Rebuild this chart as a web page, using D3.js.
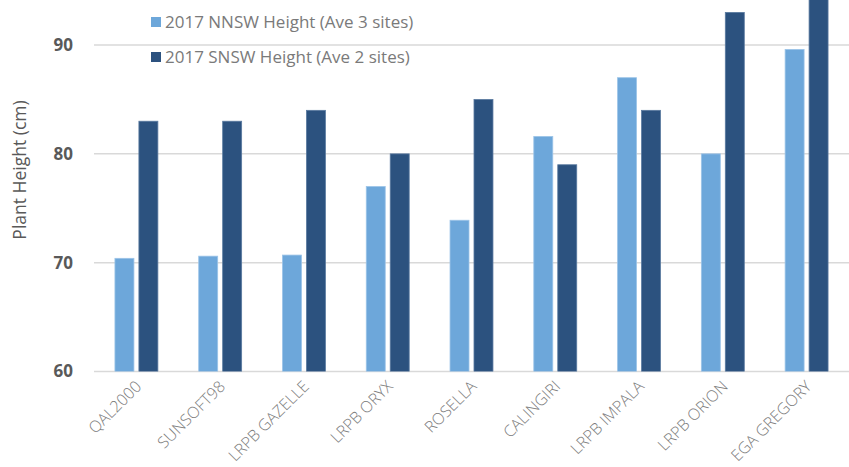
<!DOCTYPE html>
<html><head><meta charset="utf-8">
<script src="https://d3js.org/d3.v7.min.js"></script>
<style>body{margin:0;background:#fff}svg{display:block}</style>
</head><body>
<svg id="c" width="849" height="467"></svg>
<script>
const categories = ["QAL2000","SUNSOFT98","LRPB GAZELLE","LRPB ORYX","ROSELLA","CALINGIRI","LRPB IMPALA","LRPB ORION","EGA GREGORY"];
const nnsw = [70.4, 70.6, 70.7, 77.0, 73.9, 81.6, 87.0, 80.0, 89.6];
const snsw = [83.0, 83.0, 84.0, 80.0, 85.0, 79.0, 84.0, 93.0, 95.0];
const seriesNames = ["2017 NNSW Height (Ave 3 sites)", "2017 SNSW Height (Ave 2 sites)"];
const yTicks = [60, 70, 80, 90];
const yTitle = "Plant Height (cm)";
const colors = ["#6DA7DA", "#2C527F"];

(function(){
const svg = d3.select("#c");
const font = "'Open Sans', sans-serif";
const pl = 94, pr = 849, pt = 0, pb = 371.5;
const x = d3.scaleBand().domain(categories).range([pl, pr]).paddingInner(0.4875).paddingOuter(0.25);
const xs = d3.scaleBand().domain([0,1]).range([0, x.bandwidth()]).paddingInner(0.208);
const y = d3.scaleLinear().domain([60, 94.14]).range([pb, pt]);

svg.append("defs").append("clipPath").attr("id","clip").append("rect")
  .attr("x", pl).attr("y", 0).attr("width", pr-pl).attr("height", pb);

// gridlines
svg.append("g").selectAll("line").data(yTicks).join("line")
  .attr("x1", pl).attr("x2", pr)
  .attr("y1", d => y(d)).attr("y2", d => y(d))
  .attr("stroke", "#d9d9d9").attr("stroke-width", 1.5);

// bars
const data = categories.map((c,i) => ({c, v:[nnsw[i], snsw[i]]}));
const g = svg.append("g").attr("clip-path","url(#clip)");
g.selectAll("g").data(data).join("g")
  .attr("transform", d => `translate(${x(d.c)},0)`)
  .selectAll("rect").data(d => d.v.map((v,k)=>({v,k}))).join("rect")
  .attr("x", d => xs(d.k)).attr("width", xs.bandwidth())
  .attr("y", d => y(d.v)).attr("height", d => y(60) - y(d.v))
  .attr("fill", d => colors[d.k])
  .attr("stroke", d => d.k===0 ? "#9cc4e8" : "#5a7aa0").attr("stroke-width", 0.8);

// y axis labels
svg.append("g").selectAll("text").data(yTicks).join("text")
  .attr("x", 73).attr("y", d => y(d)).attr("dy", "0.35em")
  .attr("text-anchor", "end")
  .attr("font-family", font).attr("font-weight", "bold")
  .attr("font-size", 17).attr("fill", "#595959").text(d => d);

// y title
svg.append("text").attr("transform", `translate(26,170) rotate(-90)`)
  .attr("text-anchor", "middle")
  .attr("font-family", font).attr("font-size", 17.5)
  .attr("fill", "#595959").text(yTitle);

// x labels
svg.append("g").attr("opacity", 0.99).selectAll("text").data(categories).join("text")
  .attr("transform", d => `translate(${x(d)+x.bandwidth()/2+6},${pb+16}) rotate(-45)`)
  .attr("text-anchor", "end")
  .attr("font-family", font).attr("font-weight", 300)
  .attr("font-size", 16).attr("fill", "#7a7a7a").text(d => d);

// legend
const lg = svg.append("g").selectAll("g").data(seriesNames).join("g")
  .attr("transform", (d,i) => `translate(151,${17 + i*35})`);
lg.append("rect").attr("width", 10).attr("height", 10).attr("fill", (d,i) => colors[i]);
lg.append("text").attr("x", 14).attr("y", 5).attr("dy", "0.35em")
  .attr("font-family", font).attr("font-size", 17)
  .attr("fill", "#7a7a7a").text(d => d);
})();
</script>
</body></html>
